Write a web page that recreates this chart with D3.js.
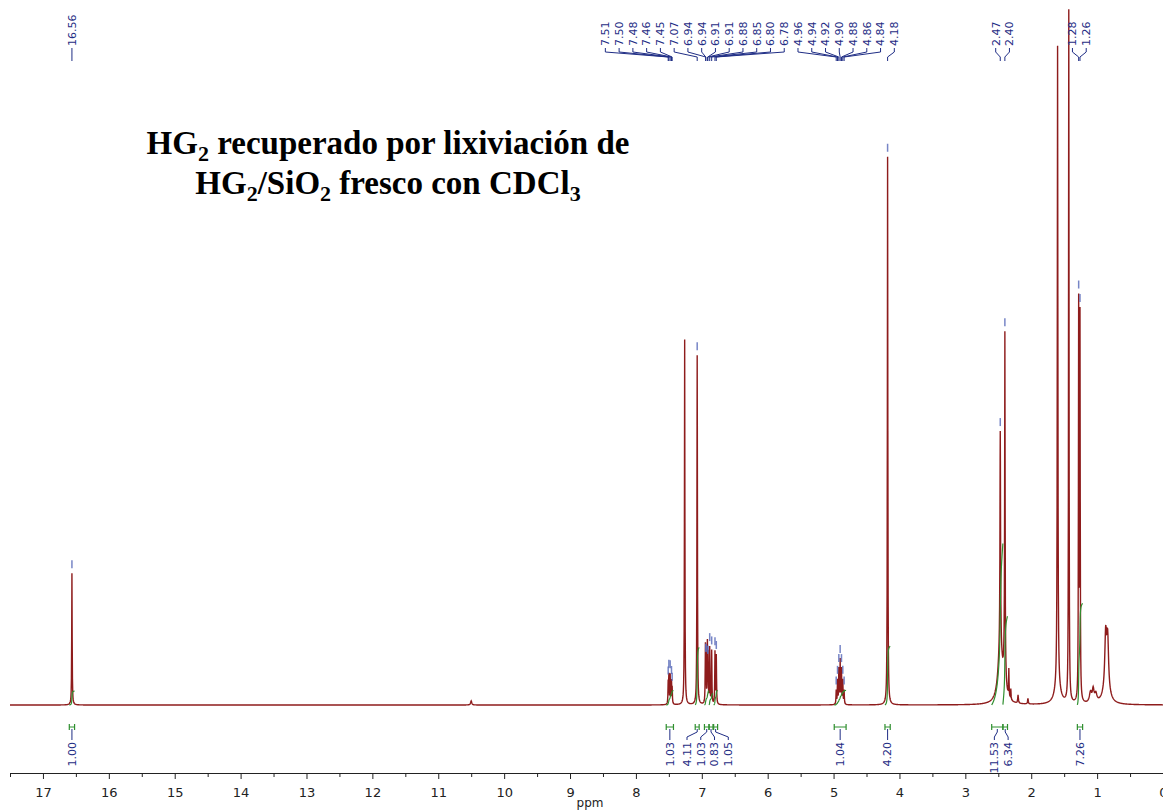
<!DOCTYPE html>
<html>
<head>
<meta charset="utf-8">
<script src="https://cdn.jsdelivr.net/npm/d3@7"></script>
<style>
  body { margin: 0; background: #fff; }
  svg { display: block; }
  .lbl { font-family: "DejaVu Sans", Verdana, sans-serif; font-size: 11px; fill: #1f2d85; }
  .axis text { font-family: "DejaVu Sans", Verdana, sans-serif; font-size: 13px; fill: #222; }
  .axis path, .axis line { stroke: #222; }
</style>
</head>
<body>
<div id="chart"></div>
<script>
// peak table (ppm, relative height, half width in ppm)
const peakPpm = [16.56, 10.50, 7.51, 7.50, 7.48, 7.46, 7.45, 7.26, 7.07,
  6.945, 6.937, 6.915, 6.906, 6.88, 6.85, 6.80, 6.78,
  4.96, 4.94, 4.92, 4.90, 4.88, 4.86, 4.84, 4.18,
  2.47, 2.47, 2.40, 2.405, 2.34, 2.31, 2.20, 2.05,
  1.60, 1.60, 1.43, 1.28, 1.26, 1.10, 1.06, 1.02, 0.87, 0.84, 0.86];
const peakHeight = [19.0, 0.6, 3.0, 4.0, 4.2, 3.2, 2.2, 52.7, 50.4,
  7.6, 5.6, 8.0, 6.2, 8.0, 7.7, 7.5, 7.0,
  2.0, 3.4, 5.0, 6.3, 5.0, 3.4, 2.0, 79.1,
  31.0, 8.0, 48.0, 4.0, 4.0, 1.5, 1.2, 0.8,
  92.5, 2.5, 100, 57.0, 55.0, 1.5, 1.8, 1.2, 7.8, 7.4, 2.0];
const peakWidth = [0.004, 0.01, 0.004, 0.004, 0.004, 0.004, 0.004, 0.004, 0.004,
  0.004, 0.004, 0.004, 0.004, 0.004, 0.004, 0.004, 0.004,
  0.004, 0.004, 0.004, 0.004, 0.004, 0.004, 0.004, 0.004,
  0.005, 0.04, 0.004, 0.02, 0.004, 0.004, 0.006, 0.006,
  0.005, 0.05, 0.004, 0.004, 0.004, 0.02, 0.015, 0.02, 0.016, 0.016, 0.06];

// labelled peaks (top)
const peakLabels = [16.56, 7.51, 7.50, 7.48, 7.46, 7.45, 7.07, 6.94, 6.94, 6.91, 6.91,
  6.88, 6.85, 6.80, 6.78, 4.96, 4.94, 4.92, 4.90, 4.88, 4.86, 4.84, 4.18,
  2.47, 2.40, 1.28, 1.26];

// integration regions
const intFrom = [16.60, 7.54, 7.10, 6.96, 6.89, 6.82, 4.99, 4.22, 2.60, 2.43, 1.30];
const intTo   = [16.52, 7.43, 7.04, 6.89, 6.83, 6.76, 4.81, 4.14, 2.43, 2.36, 1.22];
const intValue = [1.00, 1.03, 4.11, 1.03, 0.83, 1.05, 1.04, 4.20, 11.53, 6.34, 7.26];

const majorTicks = d3.range(0, 18);
const minorTicks = d3.range(0.5, 17.6, 1);

const width = 1163, height = 811;
const svg = d3.select("#chart").append("svg")
  .attr("width", width).attr("height", height);

const x = d3.scaleLinear().domain([17.5, 0]).range([10, 1163]);
const y = d3.scaleLinear().domain([0, 100]).range([705, 12]);
const intScale = d3.scaleLinear().domain([0, 1]).range([0, 14]);

function spec(p) {
  let s = 0;
  for (let i = 0; i < peakPpm.length; i++) {
    const d = (p - peakPpm[i]) / peakWidth[i];
    s += peakHeight[i] / (1 + d * d);
  }
  return s;
}

// sample points, include exact centers so narrow peaks keep their tops
let pts = d3.range(17.5, 0, -0.004).concat(peakPpm).concat([0]);
pts.sort((a, b) => b - a);
const line = d3.line().x(d => x(d)).y(d => y(spec(d)));

svg.append("path")
  .datum(pts)
  .attr("fill", "none")
  .attr("stroke", "#8e1c1c")
  .attr("stroke-width", 1.4)
  .attr("d", line);

// integral curves
intFrom.forEach((hi, i) => {
  const lo = intTo[i];
  const xs = d3.range(hi, lo, -0.0005);
  let acc = 0;
  const cum = xs.map(p => { acc += spec(p); return acc; });
  const total = acc;
  const pix = intScale(intValue[i]);
  svg.append("path")
    .datum(xs.map((p, k) => [p, cum[k] / total]))
    .attr("fill", "none")
    .attr("stroke", "#2f8f2f")
    .attr("stroke-width", 1.2)
    .attr("d", d3.line().x(d => x(d[0])).y(d => 705 - pix * d[1]));
});

// spread labels so they don't overlap
function spread(xs, gap) {
  let cl = xs.map(v => ({ start: v, n: 1, sum: v }));
  let changed = true;
  while (changed) {
    changed = false;
    for (let i = 0; i < cl.length - 1; i++) {
      const a = cl[i], b = cl[i + 1];
      if (b.start - (a.start + (a.n - 1) * gap) < gap) {
        const n = a.n + b.n, sum = a.sum + b.sum;
        cl.splice(i, 2, { start: sum / n - (n - 1) * gap / 2, n, sum });
        changed = true;
        break;
      }
    }
  }
  const out = [];
  cl.forEach(c => { for (let k = 0; k < c.n; k++) out.push(c.start + k * gap); });
  return out;
}

// top peak labels
const topX = spread(peakLabels.map(p => x(p)), 13.76);
const topG = svg.append("g");
peakLabels.forEach((p, i) => {
  const px = x(p), lx = topX[i];
  topG.append("text").attr("class", "lbl")
    .attr("transform", `translate(${lx},46) rotate(-90)`)
    .attr("dy", "0.35em")
    .text(p.toFixed(2));
  topG.append("path")
    .attr("fill", "none").attr("stroke", "#1f2d85").attr("stroke-width", 1)
    .attr("d", `M${lx},48 L${lx},52 L${px},57 L${px},61`);
  // marker over peak top
  const top = y(spec(p));
  svg.append("line")
    .attr("x1", px).attr("x2", px)
    .attr("y1", top - 13).attr("y2", top - 5)
    .attr("stroke", "#5566b8").attr("stroke-opacity", 0.8).attr("stroke-width", 1.5);
});

// integral markers + labels
const intMid = intFrom.map((hi, i) => x((hi + intTo[i]) / 2));
const botX = spread(intMid, 13.76);
intFrom.forEach((hi, i) => {
  const x0 = x(hi), x1 = x(intTo[i]);
  svg.append("path")
    .attr("fill", "none").attr("stroke", "#2f8f2f").attr("stroke-width", 1.2)
    .attr("d", `M${x0},724 L${x0},730 M${x0},727 L${x1},727 M${x1},724 L${x1},730`);
  svg.append("path")
    .attr("fill", "none").attr("stroke", "#1f2d85").attr("stroke-width", 1)
    .attr("d", `M${intMid[i]},729 L${intMid[i]},732 L${botX[i]},737 L${botX[i]},740`);
  svg.append("text").attr("class", "lbl")
    .attr("transform", `translate(${botX[i]},742) rotate(-90)`)
    .attr("dy", "0.35em")
    .attr("text-anchor", "end")
    .text(intValue[i].toFixed(2));
});

// axis
svg.append("g").attr("class", "axis")
  .attr("transform", "translate(0,773)")
  .call(d3.axisBottom(x).tickValues(majorTicks).tickSize(6).tickSizeOuter(0).tickPadding(9)
    .tickFormat(d3.format("d")));
svg.append("g").attr("class", "axis")
  .attr("transform", "translate(0,773)")
  .call(d3.axisBottom(x).tickValues(minorTicks).tickSize(4).tickSizeOuter(0).tickFormat(""))
  .select(".domain").remove();
svg.append("text")
  .attr("x", 590).attr("y", 807)
  .attr("text-anchor", "middle")
  .style("font-family", "DejaVu Sans, Verdana, sans-serif")
  .style("font-size", "12px").style("fill", "#222")
  .text("ppm");

// title
const title = svg.append("text")
  .attr("text-anchor", "middle")
  .style("font-family", "Liberation Serif, Times New Roman, serif")
  .style("font-weight", "bold")
  .style("font-size", "33px")
  .style("fill", "#000");
function sub(t, s) { t.append("tspan").attr("dy", 7).style("font-size", "22px").text(s); }
title.append("tspan").attr("x", 388).attr("y", 154).text("HG");
sub(title, "2");
title.append("tspan").attr("dy", -7).text(" recuperado por lixiviación de");
title.append("tspan").attr("x", 388).attr("y", 194).text("HG");
sub(title, "2");
title.append("tspan").attr("dy", -7).text("/SiO");
sub(title, "2");
title.append("tspan").attr("dy", -7).text(" fresco con CDCl");
sub(title, "3");
</script>
</body>
</html>
